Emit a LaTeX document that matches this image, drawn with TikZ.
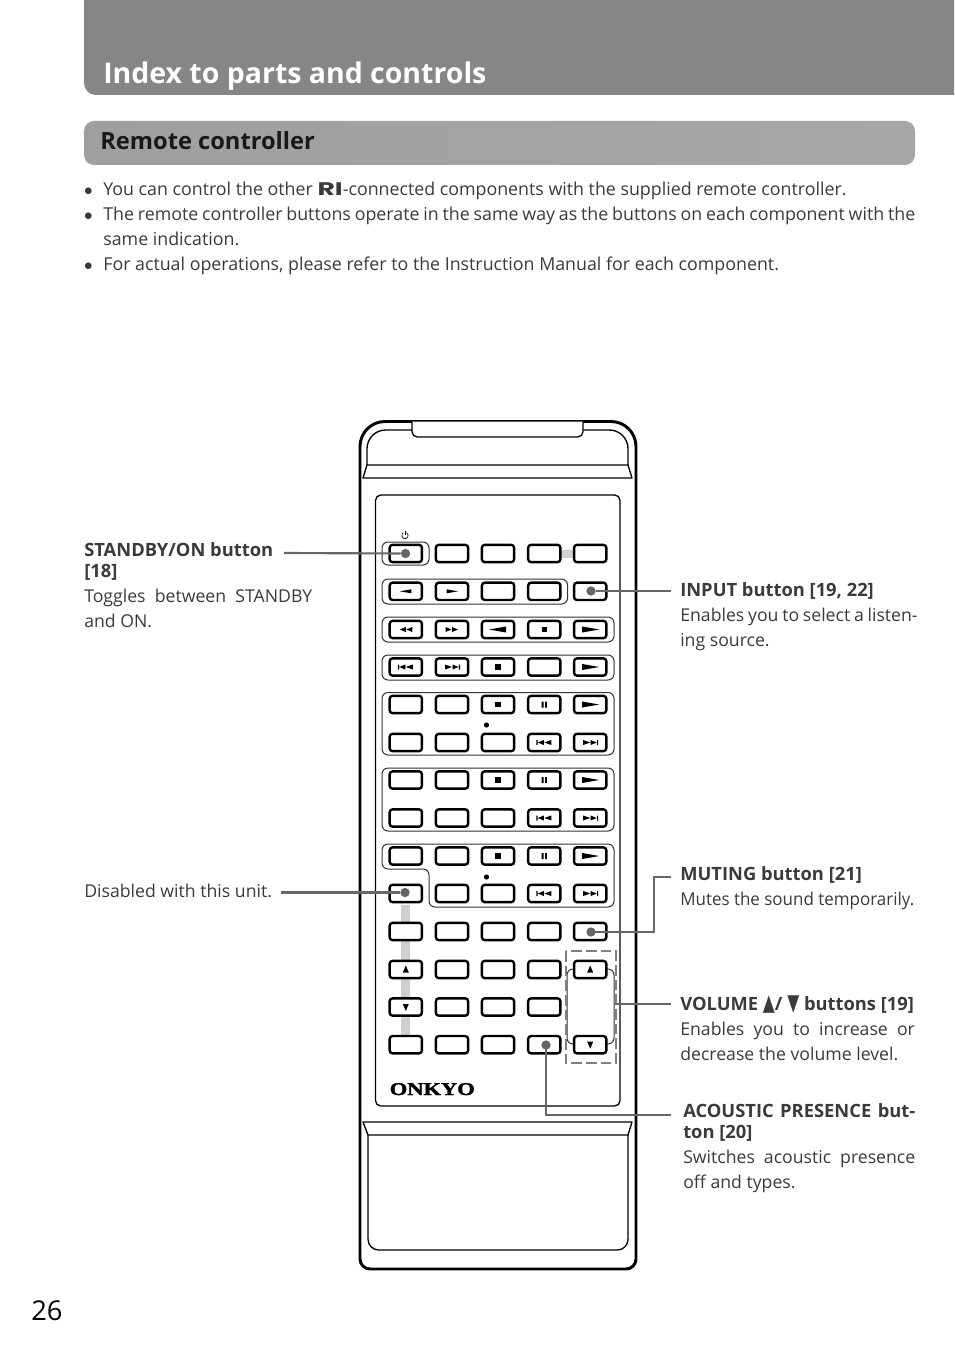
\documentclass[tikz,border=0pt]{standalone}
\usepackage{fontspec}
\setmainfont{Open Sans}
\usetikzlibrary{calc}
\definecolor{ink}{HTML}{3A3A3A}
\definecolor{lead}{HTML}{666666}
\definecolor{dashg}{HTML}{808080}
\definecolor{barg}{HTML}{CFCFCF}
\definecolor{headg}{HTML}{878585}
\definecolor{bandl}{HTML}{A09E9F}
\definecolor{bandr}{HTML}{A8A6A7}
\tikzset{
 x=0.75pt,y=-0.75pt,
 btn/.style={draw=black,fill=white,line width=1.8pt,rounded corners=2.2pt,minimum width=24.2pt,minimum height=13pt,inner sep=0pt},
 grp/.style={draw=black!80,line width=.75pt,rounded corners=4.5pt,fill=white},
 leader/.style={draw=lead,line width=1.6pt},
 dotn/.style={circle,fill=lead,minimum size=7pt,inner sep=0pt},
 body/.style={anchor=north west,inner sep=0pt,text=ink,align=justify},
 pics/pl/.style={code={\fill (-8,-2.5)--(8,0)--(-8,2.5)--cycle;}},
 pics/plbig/.style={code={\fill (-8,-3)--(9,0)--(-8,3)--cycle;}},
 pics/lf/.style={code={\fill (8,-3)--(-9,0)--(8,3)--cycle;}},
 pics/pls/.style={code={\fill (-5.5,-2)--(6,0)--(-5.5,2)--cycle;}},
 pics/lfs/.style={code={\fill (5.5,-2)--(-6,0)--(5.5,2)--cycle;}},
 pics/rw/.style={code={\fill (0,-2.5)--(-6,0)--(0,2.5)--cycle (6.5,-2.5)--(.5,0)--(6.5,2.5)--cycle;}},
 pics/ffw/.style={code={\fill (0,-2.5)--(6,0)--(0,2.5)--cycle (-6.5,-2.5)--(-.5,0)--(-6.5,2.5)--cycle;}},
 pics/st/.style={code={\fill (-2.7,-2.7) rectangle (2.7,2.7);}},
 pics/ps/.style={code={\fill (-2.6,-3) rectangle (-.7,3) (.7,-3) rectangle (2.6,3);}},
 pics/pv/.style={code={\fill (-8,-2.5) rectangle (-6.8,2.5) (-.5,-2.5)--(-6.5,0)--(-.5,2.5)--cycle (7,-2.5)--(0,0)--(7,2.5)--cycle;}},
 pics/nx/.style={code={\fill (8,-2.5) rectangle (6.8,2.5) (.5,-2.5)--(6.5,0)--(.5,2.5)--cycle (-7,-2.5)--(0,0)--(-7,2.5)--cycle;}},
 pics/upg/.style={code={\fill (-3,3)--(0,-4)--(3,3)--cycle;}},
 pics/dng/.style={code={\fill (-3,-3)--(0,4)--(3,-3)--cycle;}},
}
\newcommand{\bhead}[1]{{\fontsize{13.75pt}{15.75pt}\selectfont\bfseries\par #1\par}}
\newcommand{\bbody}{\fontsize{13.25pt}{18.75pt}\selectfont}
\newcommand{\bul}{\hangindent=14.3pt\hangafter=0\noindent\llap{\makebox[14.3pt][l]{\hspace{.3pt}\raisebox{1.6pt}{\fontspec{DejaVu Sans}\fontsize{6.5pt}{6.5pt}\selectfont●}}}}
\begin{document}
\begin{tikzpicture}
\useasboundingbox (0,0) rectangle (954,1352);
% header
\path[fill=headg] (84,0) -- (954,0) -- (954,95) -- (96,95) arc[start angle=90,end angle=180,radius=12] -- cycle;
\node[anchor=base west,inner sep=0pt,text=white,font=\fontsize{21.35pt}{25pt}\selectfont\bfseries] (title) at (103,83.5) {Index to parts and controls};
\path[left color=bandl,right color=bandr,rounded corners=7.5pt] (84,121) rectangle (915,165);
\node[anchor=base west,inner sep=0pt,text=black!90,font=\fontsize{17.75pt}{20pt}\selectfont\bfseries] (sect) at (100,149.5) {Remote controller};
% bullets
\node[body,text width=623.25pt,font=\fontsize{13.35pt}{18.75pt}\selectfont] (para) at (84,181.5) {%
 \bul You can control the other {\fontspec{Poppins}\bfseries\scalebox{1.5}[1.02]{RI}}-connected components with the supplied remote controller.\par
 \bul The remote controller buttons operate in the same way as the buttons on each component with the\linebreak same indication.\par
 \bul For actual operations, please refer to the Instruction Manual for each component.\par};
% body of remote
\draw[line width=2.2pt,fill=white] (360,446.5) arc[start angle=180,end angle=270,radius=25] -- (611,421.5) arc[start angle=270,end angle=360,radius=25] -- (636,1259) arc[start angle=0,end angle=90,radius=10] -- (370,1269) arc[start angle=90,end angle=180,radius=10] -- cycle;
\draw[line width=1pt,rounded corners=14pt] (412,430) -- (367,430) -- (367,465);
\draw[line width=1pt,rounded corners=14pt] (583,430) -- (628,430) -- (628,465);
\draw[line width=1pt,fill=white,rounded corners=4pt] (412,421.5) -- (412,437) -- (583,437) -- (583,421.5);
\draw[line width=1pt,line join=round] (367,465) -- (363,478) -- (632,478) -- (628,465) -- cycle;
\draw[line width=1pt,rounded corners=4pt] (375.5,495) rectangle (620,1106);
\draw[line width=1pt,line join=round] (363,1122) -- (368,1135) -- (628,1135) -- (632,1122) -- cycle;
\draw[line width=1pt,rounded corners=8pt] (368,1135) -- (368,1250) -- (628,1250) -- (628,1135);
% bars
\fill[barg] (401,905) rectangle (410,1036);
\fill[barg] (560,549.5) rectangle (575,558);
% groups
\draw[grp] (382,542) rectangle (429,565);
\draw[grp] (382,579) rectangle (567.5,604);
\draw[grp] (382,617) rectangle (614,642);
\draw[grp] (382,655) rectangle (614,680);
\draw[grp] (382,692.5) rectangle (614,755);
\draw[grp] (382,768) rectangle (614,831);
\draw[grp] (382,844) -- (614,844) -- (614,907) -- (429,907) -- (429,869) -- (382,869) -- cycle;
\draw[grp,fill=none] (567,969) rectangle (614,1044);
\draw[dashg,line width=1.8pt,dash pattern=on 8pt off 3pt] (566,951) rectangle (616,1063);
% buttons
\foreach \rr/\yy in {1/553.5,2/591.3,3/629.5,4/667,5/704.5,6/742.5,7/780,8/818,9/856,10/893.5,11/931.5,12/969.5,13/1007,14/1044.7}{
 \foreach \cc/\xx in {1/405.8,2/452,3/498,4/544.3,5/590.2}{
  \ifnum\rr=13 \ifnum\cc=5 \else\node[btn] (b\rr-\cc) at (\xx,\yy) {};\fi\else
  \node[btn] (b\rr-\cc) at (\xx,\yy) {};\fi
 }
}
% glyphs
\foreach \nm/\gg in {2-1/lfs,2-2/pls,3-1/rw,3-2/ffw,3-3/lf,3-4/st,3-5/plbig,4-1/pv,4-2/nx,4-3/st,4-5/plbig,
 5-3/st,5-4/ps,5-5/plbig,6-4/pv,6-5/nx,7-3/st,7-4/ps,7-5/plbig,8-4/pv,8-5/nx,9-3/st,9-4/ps,9-5/plbig,10-4/pv,10-5/nx,
 12-1/upg,12-5/upg,13-1/dng,14-5/dng}{
 \pic at (b\nm) {\gg};
}
\fill (486.5,725) circle (2.6);
\fill (486.5,877) circle (2.6);
% power symbol
\draw[line width=.5pt] (406.6,532.7) arc[start angle=-60,end angle=240,radius=3.2];
\draw[line width=.5pt] (405,530.5) -- (405,535);
% ONKYO
\node[anchor=base west,inner sep=0pt,text=black] (logo) at (389.5,1095) {\fontspec[FakeBold=1.5]{Liberation Serif}\fontsize{13.5pt}{13.5pt}\selectfont\bfseries\scalebox{1.25}[1]{ONKYO}};
% leaders
\coordinate (l1) at (284,553);
\coordinate (l2) at (671,591);
\coordinate (l3) at (281,892.5);
\coordinate (l4) at (671,877);
\coordinate (l5) at (671,1004);
\coordinate (l6) at (671,1115);
\coordinate (v5) at (614,1004);
\node[dotn] (d1) at (405.5,553.5) {};
\node[dotn] (d2) at (591,591) {};
\node[dotn] (d3) at (405,892.5) {};
\node[dotn] (d4) at (591,932) {};
\node[dotn] (d5) at (546,1045) {};
\draw[leader] (l1) -- (d1);
\draw[leader] (d2) -- (l2);
\draw[leader] (l3) -- (d3);
\draw[leader] (d4.center) -- (654,932) -- (654,877) -- (l4);
\draw[leader] (v5) -- (l5);
\draw[leader] (d5.center) -- (546,1115) -- (l6);
% labels
\node[body,text width=171pt,font=\bbody] (t1) at (84,535) {\bhead{STANDBY/ON button\newline [18]}\noindent Toggles between STANDBY and ON.};
\node[body,text width=178pt,font=\bbody] (t2) at (680,575) {\bhead{INPUT button [19, 22]}\noindent Enables you to select a listen-\linebreak ing source.};
\node[body,font=\bbody] (t3) at (84,884) {Disabled with this unit.};
\node[body,text width=180pt,font=\bbody] (t4) at (680,859) {\bhead{MUTING button [21]}\noindent\resizebox{175.5pt}{\height}{Mutes the sound temporarily.}};
\node[body,text width=176pt,font=\bbody] (t5) at (680,989) {\bhead{VOLUME {\fontspec{DejaVu Sans}\scalebox{.85}[1.25]{▲}}/ {\fontspec{DejaVu Sans}\scalebox{.85}[1.25]{▼}} buttons [19]}\noindent Enables you to increase or decrease the volume level.};
\node[body,text width=174pt,font=\bbody] (t6) at (683,1096) {\bhead{ACOUSTIC PRESENCE but-\linebreak ton [20]}\noindent Switches acoustic presence off and types.};
\node[anchor=base west,inner sep=0pt,text=black,font=\fontsize{20.5pt}{24pt}\selectfont] (pg) at (31,1320) {26};
\end{tikzpicture}
\end{document}
